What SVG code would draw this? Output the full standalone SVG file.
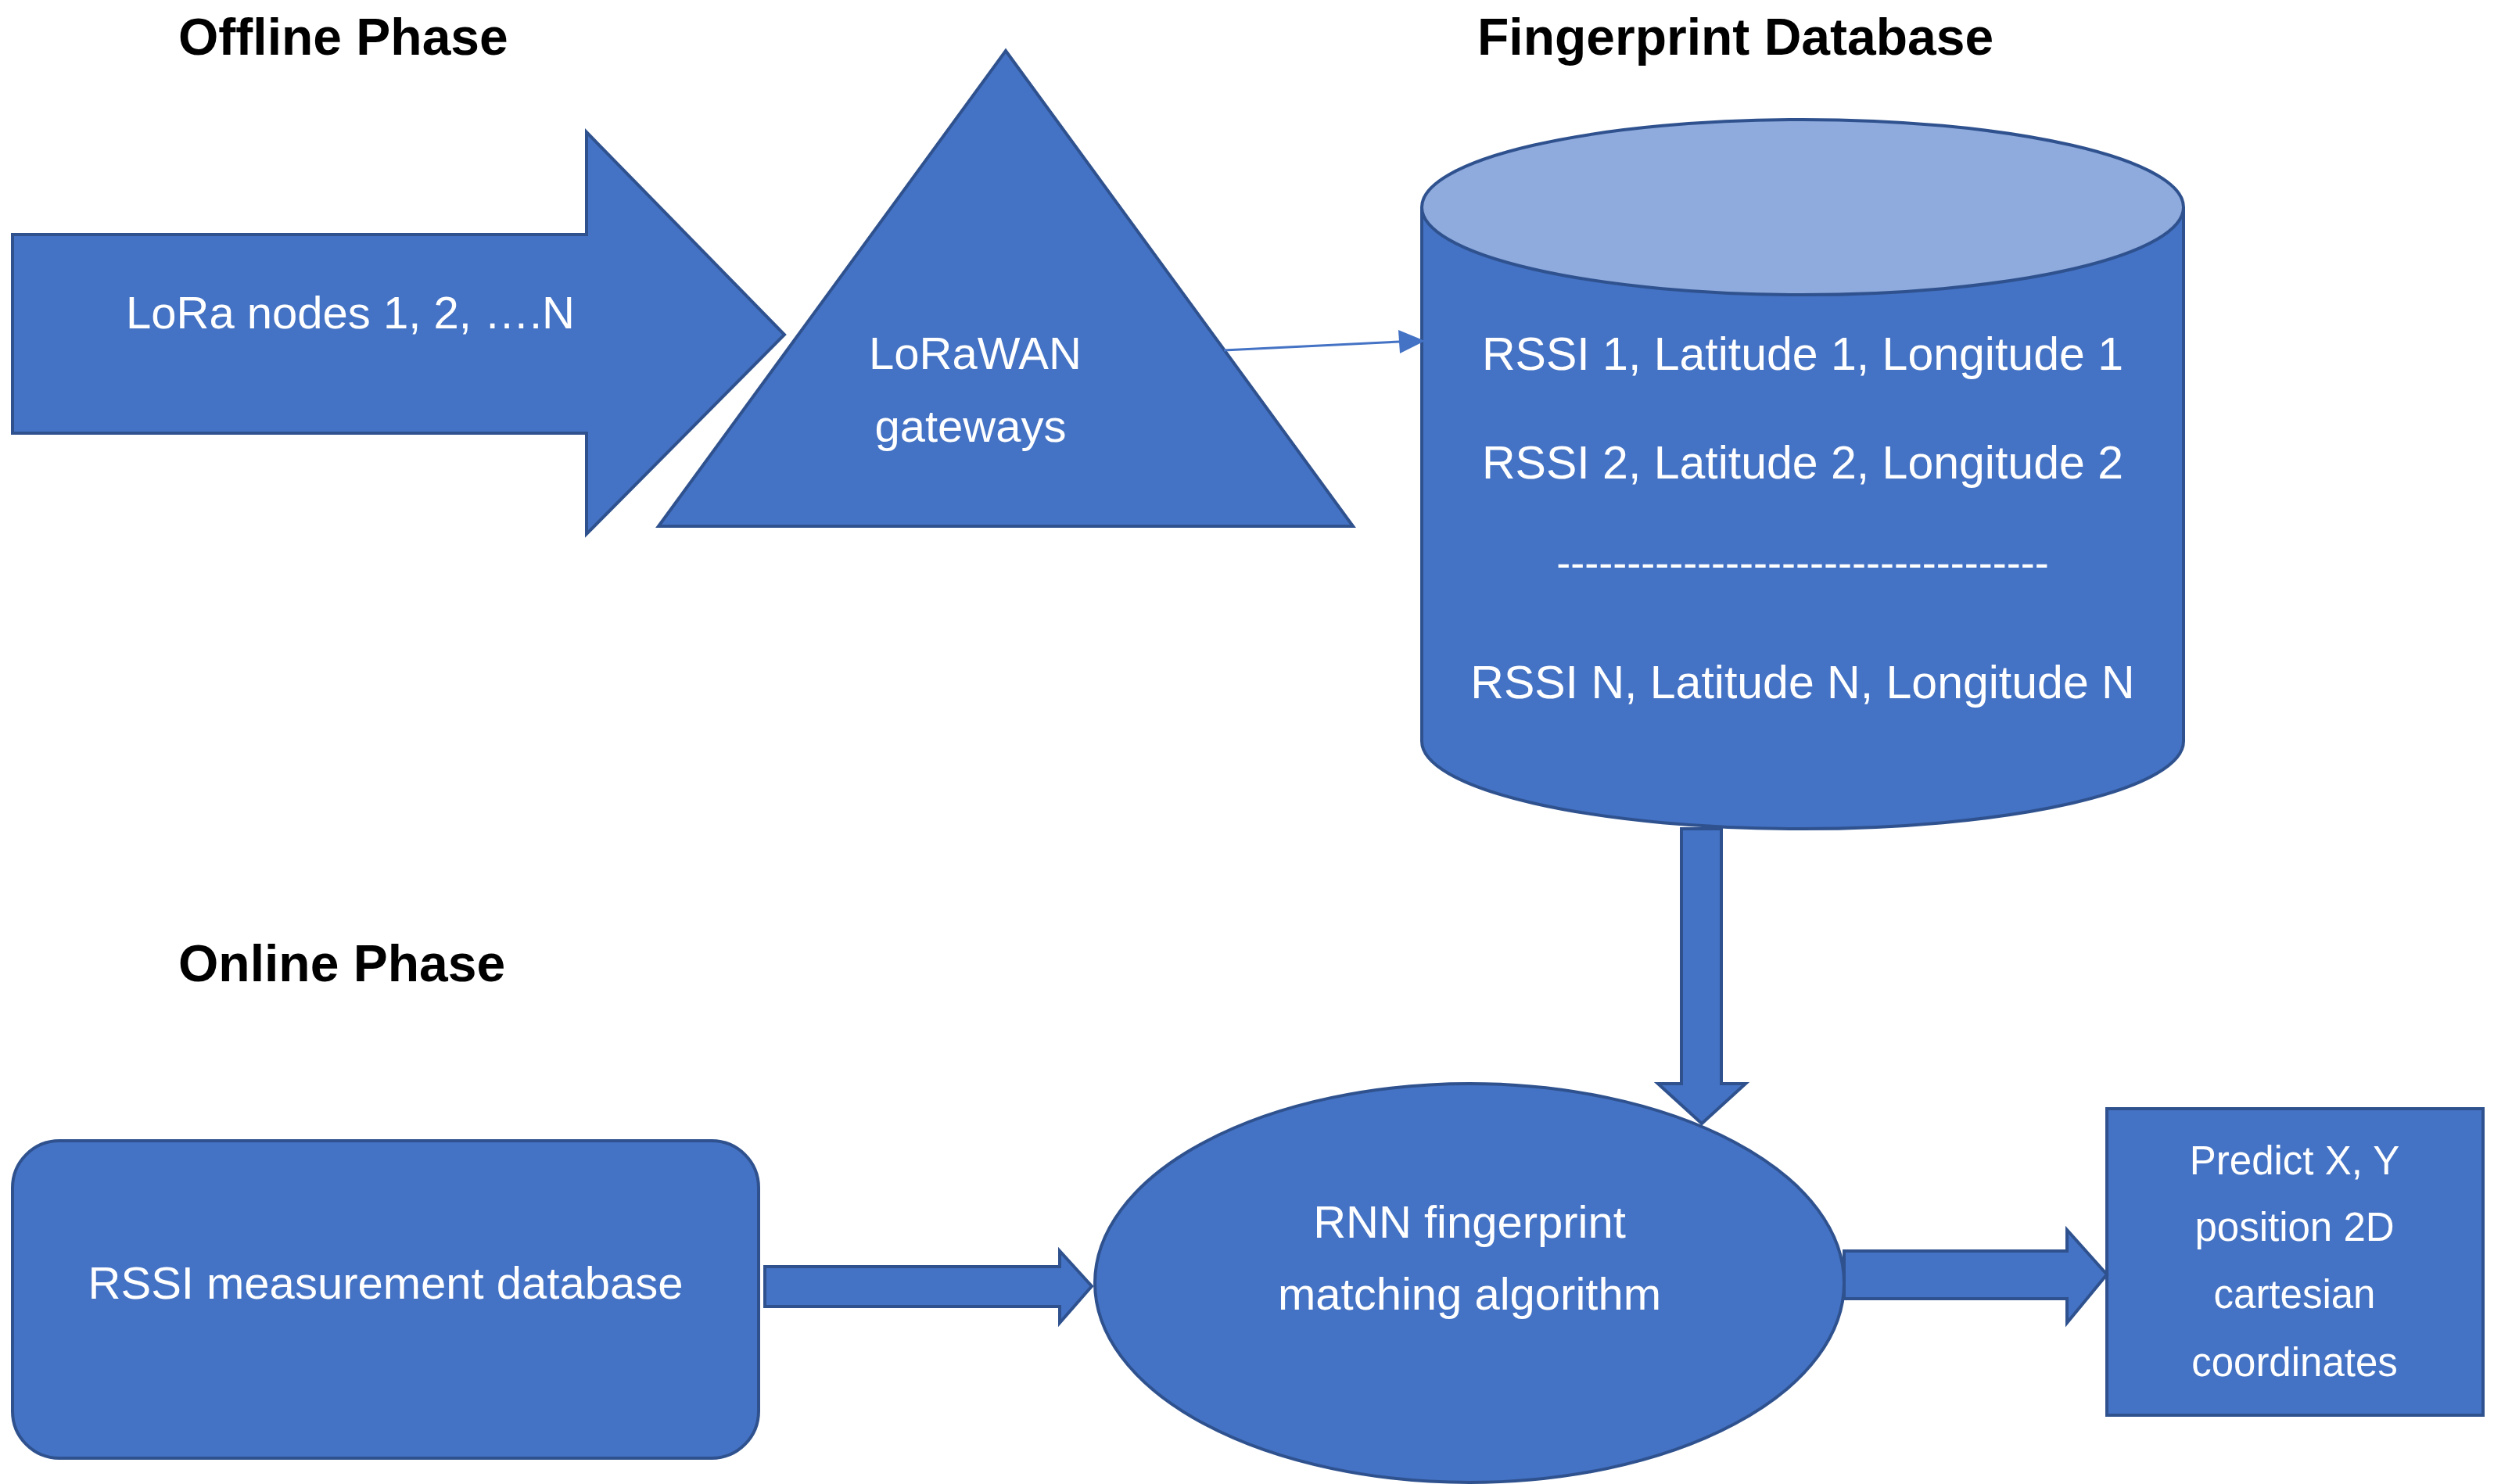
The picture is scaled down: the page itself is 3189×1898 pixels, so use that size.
<svg xmlns="http://www.w3.org/2000/svg" width="3189" height="1898" viewBox="0 0 3189 1898">
<style>
.s{fill:#4472C4;stroke:#2F528F;stroke-width:4}
.w{fill:#fff;font-family:"Liberation Sans",Arial,sans-serif;text-anchor:middle}
.h{fill:#000;font-family:"Liberation Sans",Arial,sans-serif;font-weight:bold;font-size:66px}
</style>
<rect width="3189" height="1898" fill="#fff"/>
<text class="h" x="228" y="70">Offline Phase</text>
<text class="h" x="1889" y="70">Fingerprint Database</text>
<text class="h" x="228" y="1255">Online Phase</text>
<g id="lora-nodes">
<path class="s" d="M16,300 H750 V169 L1003,428 L750,683 V554 H16 Z"/>
<text class="w" x="448" y="420" font-size="58">LoRa nodes 1, 2, ….N</text>
</g>
<g id="gateways">
<path class="s" d="M1286,65 L1730,673 H842 Z"/>
<text class="w" x="1247" y="472" font-size="58">LoRaWAN</text>
<text class="w" x="1241" y="565" font-size="58">gateways</text>
</g>
<g id="fingerprint-db">
<path class="s" d="M1818,265 V948 A487,112 0 0 0 2792,948 V265"/>
<ellipse cx="2305" cy="265" rx="487" ry="112" fill="#8FAADC" stroke="#2F528F" stroke-width="4"/>
<text class="w" x="2305" y="473" font-size="59">RSSI 1, Latitude 1, Longitude 1</text>
<text class="w" x="2305" y="612" font-size="59">RSSI 2, Latitude 2, Longitude 2</text>
<text class="w" x="2305" y="738" font-size="54">-----------------------------------</text>
<text class="w" x="2305" y="893" font-size="59">RSSI N, Latitude N, Longitude N</text>
</g>
<g id="rssi-db">
<rect class="s" x="16" y="1459" width="954" height="406" rx="60"/>
<text class="w" x="493" y="1661" font-size="58">RSSI measurement database</text>
</g>
<g id="rnn">
<ellipse class="s" cx="1879" cy="1641" rx="479" ry="255"/>
<text class="w" x="1879" y="1583" font-size="58">RNN fingerprint</text>
<text class="w" x="1879" y="1675" font-size="58">matching algorithm</text>
</g>
<g id="predict">
<rect class="s" x="2694" y="1418" width="481" height="392"/>
<text class="w" x="2934" y="1502" font-size="51">Predict X, Y</text>
<text class="w" x="2934" y="1587" font-size="51">position 2D</text>
<text class="w" x="2934" y="1673" font-size="51">cartesian</text>
<text class="w" x="2934" y="1760" font-size="51">coordinates</text>
</g>
<g id="connectors">
<line x1="1565" y1="448" x2="1790" y2="437" stroke="#4472C4" stroke-width="3"/>
<path d="M1822,436 L1788,422 L1790,452 Z" fill="#4472C4"/>
<path class="s" d="M2150,1060 H2201 V1386 H2232 L2176,1437 L2120,1386 H2150 Z"/>
<path class="s" d="M978,1620 H1355 V1600 L1396,1645 L1355,1692 V1671 H978 Z"/>
<path class="s" d="M2358,1600 H2643 V1573 L2694,1630 L2643,1692 V1661 H2358 Z"/>
</g>
</svg>
